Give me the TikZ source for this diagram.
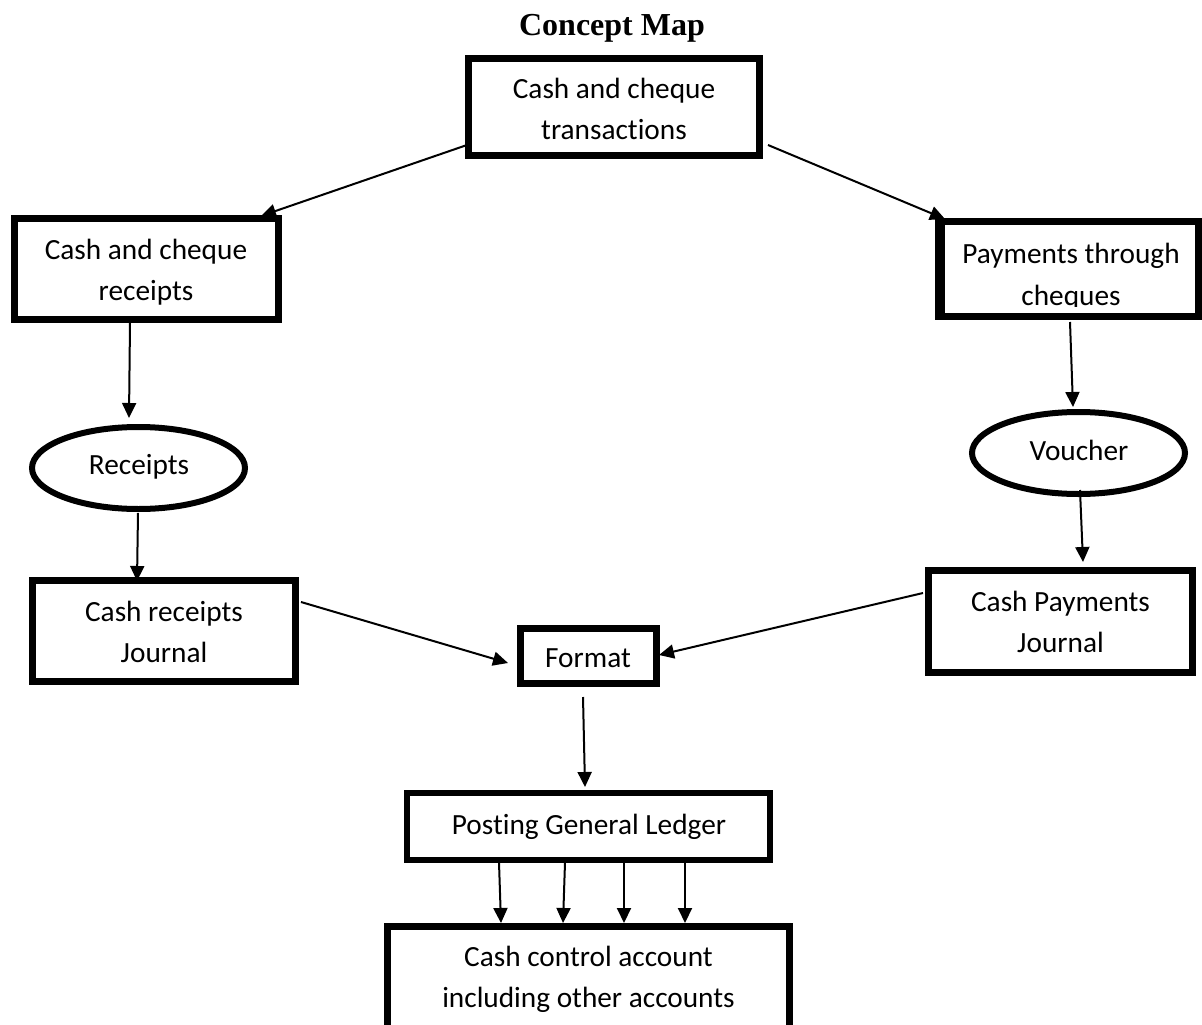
\documentclass[tikz,border=0pt]{standalone}
\usepackage{fontspec}
\newfontfamily\labelfont{Carlito}[Ligatures={NoCommon}]
\newfontfamily\headfont{Liberation Serif}
\usetikzlibrary{arrows.meta,calc,shapes.geometric}

\begin{document}
\begin{tikzpicture}[x=1pt,y=-1pt,
  box/.style={draw, rectangle, line width=7pt, inner sep=0pt, outer sep=0pt},
  oval/.style={draw, ellipse, line width=6pt, inner sep=0pt, outer sep=0pt},
  txt/.style={anchor=base, inner sep=0pt, outer sep=0pt,
              font=\labelfont\fontsize{29.3}{41}\selectfont},
  link/.style={line width=2pt, -{Triangle[length=15pt,width=14pt]}}]

\useasboundingbox (0,0) rectangle (1202,1025);
\fill[white] (0,0) rectangle (1202,1025);
\clip (0,0) rectangle (1202,1025);

% heading
\node[anchor=base, inner sep=0pt, font=\headfont\bfseries\fontsize{32}{38}\selectfont]
  (title) at (612,36) {Concept Map};

% boxes and ovals
\node[box, minimum width=291pt, minimum height=97pt]  (top)  at (614,107) {};
\node[box, minimum width=264pt, minimum height=101pt] (crc)  at (146.5,269) {};
\node[box, minimum width=260pt, minimum height=95pt]  (pay)  at (1068.5,269) {};
\draw[line width=10pt] (940,218) -- (940,320);
\node[oval, minimum width=213pt, minimum height=82pt] (rec)  at (138.5,468) {};
\node[oval, minimum width=213pt, minimum height=82pt] (vou)  at (1078.5,453) {};
\node[box, minimum width=263pt, minimum height=101pt] (crj)  at (164,631) {};
\node[box, minimum width=264pt, minimum height=102pt] (cpj)  at (1060.5,621.5) {};
\node[box, minimum width=136pt, minimum height=55pt]  (fmt)  at (588.5,656) {};
\node[box, line width=6pt, minimum width=363pt, minimum height=67pt] (post) at (588.5,826.5) {};
\node[box, minimum width=402pt, minimum height=130pt] (bot)  at (588.5,991.5) {};

% labels
\node[txt] (topA) at (614,99)  {Cash and cheque};
\node[txt] (topB) at (614,139) {transactions};
\node[txt] (crcA) at (146,259) {Cash and cheque};
\node[txt] (crcB) at (146,300) {receipts};
\node[txt] (payA) at (1071,263) {Payments through};
\begin{scope}
  \clip (945,280) rectangle (1195,306.5);
  \node[txt] (payB) at (1071,305) {cheques};
\end{scope}
\node[txt] (recT) at (139,474) {Receipts};
\node[txt] (vouT) at (1079,460) {Voucher};
\node[txt] (crjA) at (164,621) {Cash receipts};
\node[txt] (crjB) at (164,662) {Journal};
\node[txt] (cpjA) at (1060.5,611) {Cash Payments};
\node[txt] (cpjB) at (1060.5,652) {Journal};
\node[txt] (fmtT) at (588,667) {Format};
\node[txt] (postT) at (589,834) {Posting General Ledger};
\node[txt] (botA) at (588.5,966) {Cash control account};
\node[txt] (botB) at (588.5,1007) {including other accounts};

% connectors
\draw[link] ($(top)+(-147,38)$) -- ($(crc)+(114.5,-53)$);
\draw[link] ($(top)+(154,38)$) -- ($(pay)+(-123.5,-50)$);
\draw[link] ($(crc)+(-16.5,54)$) -- ($(rec)+(-9.5,-50)$);
\draw[link] ($(rec)+(-0.5,45)$) -- ($(crj)+(-27,-50)$);
\draw[link] ($(pay)+(1.5,53)$) -- ($(vou)+(-5.5,-46)$);
\draw[link] ($(vou)+(1.5,37)$) -- ($(cpj)+(22.5,-59.5)$);
\draw[link] ($(crj)+(137,-29)$) -- ($(fmt)+(-80.5,7)$);
\draw[link] ($(cpj)+(-137.5,-28.5)$) -- ($(fmt)+(70.5,-1)$);
\draw[link] ($(fmt)+(-5.5,41)$) -- ($(post)+(-3.5,-39.5)$);
\draw[link] ($(post)+(-89.5,36)$) -- ($(bot)+(-87.5,-68.5)$);
\draw[link] ($(post)+(-23.5,36)$) -- ($(bot)+(-25.5,-68.5)$);
\draw[link] ($(post)+(35.5,36)$) -- ($(bot)+(35.5,-68.5)$);
\draw[link] ($(post)+(96.5,36)$) -- ($(bot)+(96.5,-68.5)$);

\end{tikzpicture}
\end{document}
